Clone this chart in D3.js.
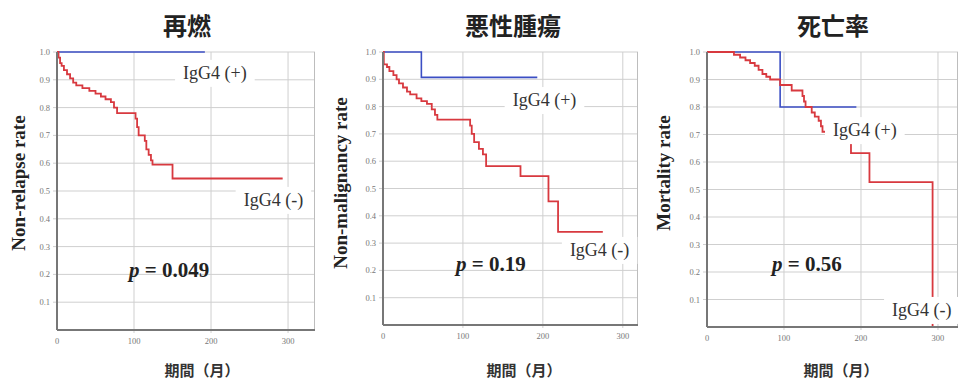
<!DOCTYPE html>
<html>
<head>
<meta charset="utf-8">
<script src="https://cdn.jsdelivr.net/npm/d3@7"></script>
<style>
  html, body { margin: 0; padding: 0; background: #fff; }
  svg { display: block; }
</style>
</head>
<body>
<div id="chart"></div>
<script>
// Kaplan-Meier step data, [month, rate]
const relapsePos = [[0, 1.0], [192, 1.0]];
const relapseNeg = [[0, 1], [2, 0.98], [4, 0.96], [6, 0.95], [9, 0.935], [13, 0.92], [17, 0.905],
  [21, 0.89], [25, 0.88], [33, 0.87], [42, 0.86], [50, 0.85], [57, 0.84], [63, 0.83], [70, 0.82],
  [74, 0.80], [78, 0.78], [102, 0.76], [104, 0.73], [106, 0.70], [114, 0.68], [116, 0.65],
  [119, 0.63], [122, 0.61], [124, 0.595], [150, 0.545], [293, 0.545]];

const malignancyPos = [[0, 1], [48, 0.907], [193, 0.907]];
const malignancyNeg = [[0, 1], [1, 0.955], [5, 0.945], [8, 0.93], [13, 0.915], [17, 0.90], [20, 0.885],
  [25, 0.87], [30, 0.855], [34, 0.845], [42, 0.83], [48, 0.82], [55, 0.81], [61, 0.79], [65, 0.77],
  [68, 0.752], [109, 0.73], [111, 0.70], [114, 0.67], [120, 0.645], [125, 0.625], [129, 0.582],
  [172, 0.545], [207, 0.453], [219, 0.341], [275, 0.341]];

const mortalityPos = [[0, 1], [95, 0.80], [194, 0.80]];
const mortalityNeg = [[0, 1], [35, 0.99], [43, 0.98], [50, 0.97], [56, 0.96], [62, 0.95], [67, 0.935],
  [72, 0.92], [77, 0.91], [82, 0.90], [95, 0.88], [110, 0.86], [124, 0.84], [126, 0.82], [128, 0.80],
  [136, 0.78], [140, 0.765], [145, 0.75], [148, 0.73], [150, 0.71], [165, 0.68], [187, 0.632],
  [211, 0.527], [293, 0.0]];

const titles = ["再燃", "悪性腫瘍", "死亡率"];
const yLabels = ["Non-relapse rate", "Non-malignancy rate", "Mortality rate"];
const pValues = ["0.049", "0.19", "0.56"];
const yTicks = [0.1, 0.2, 0.3, 0.4, 0.5, 0.6, 0.7, 0.8, 0.9, 1.0];
const xTicks = [0, 100, 200, 300];
const xLabel = "期間（月）";
const posLabel = "IgG4 (+)";
const negLabel = "IgG4 (-)";

const width = 958, height = 382;
const RED = "#d8393f", BLUE = "#3b4ec4";

// layout for each panel (pixels), label anchors in data units
const panels = [
  { pos: relapsePos, neg: relapseNeg, left: 57, top: 52, right: 315, bottom: 330, xMax: 335,
    titleX: 187, yLabX: 18, yLabY: 183, xLabX: 202, pX: 129, pY: 277,
    posAt: [205, 0.925], negAt: [281, 0.468] },
  { pos: malignancyPos, neg: malignancyNeg, left: 383, top: 52, right: 638, bottom: 325, xMax: 319,
    titleX: 513, yLabX: 340, yLabY: 183, xLabX: 524, pX: 456, pY: 271,
    posAt: [202, 0.824], negAt: [271, 0.275] },
  { pos: mortalityPos, neg: mortalityNeg, left: 707, top: 52, right: 958, bottom: 327, xMax: 326,
    titleX: 833, yLabX: 663, yLabY: 173, xLabX: 841, pX: 772, pY: 271,
    posAt: [205, 0.716], negAt: [279, 0.062] }
];

const svg = d3.select("#chart").append("svg")
    .attr("width", width)
    .attr("height", height);

panels.forEach((p, i) => {
  const x = d3.scaleLinear().domain([0, p.xMax]).range([p.left, p.right]);
  const y = d3.scaleLinear().domain([0, 1]).range([p.bottom, p.top]);
  const g = svg.append("g");

  // grid
  g.append("g")
    .selectAll("line")
    .data(yTicks)
    .join("line")
      .attr("x1", p.left - 4).attr("x2", p.right)
      .attr("y1", d => y(d)).attr("y2", d => y(d))
      .attr("stroke", "#cfcfcf").attr("stroke-width", 1);
  g.append("g")
    .selectAll("line")
    .data(xTicks.filter(d => d > 0))
    .join("line")
      .attr("x1", d => x(d)).attr("x2", d => x(d))
      .attr("y1", p.top).attr("y2", p.bottom + 3)
      .attr("stroke", "#cfcfcf").attr("stroke-width", 1);
  g.append("line")
    .attr("x1", p.right - 0.5).attr("x2", p.right - 0.5)
    .attr("y1", p.top).attr("y2", p.bottom)
    .attr("stroke", "#bdbdbd");

  // tick labels
  g.append("g")
    .selectAll("text")
    .data(yTicks)
    .join("text")
      .attr("x", p.left - 7)
      .attr("y", d => y(d) + 3)
      .attr("text-anchor", "end")
      .attr("font-family", "Liberation Serif")
      .attr("font-size", 8.5)
      .attr("fill", "#777")
      .text(d => d3.format(".1f")(d));
  g.append("g")
    .selectAll("text")
    .data(xTicks)
    .join("text")
      .attr("x", d => x(d))
      .attr("y", p.bottom + 14)
      .attr("text-anchor", "middle")
      .attr("font-family", "Liberation Serif")
      .attr("font-size", 8.5)
      .attr("fill", "#777")
      .text(d => d);

  // curves
  const line = d3.line()
      .x(d => x(d[0]))
      .y(d => y(d[1]))
      .curve(d3.curveStepAfter);
  g.append("path")
    .datum(p.pos)
    .attr("d", line)
    .attr("fill", "none")
    .attr("stroke", BLUE)
    .attr("stroke-width", 1.6);
  g.append("path")
    .datum(p.neg)
    .attr("d", line)
    .attr("fill", "none")
    .attr("stroke", RED)
    .attr("stroke-width", 1.8);

  // group labels with white boxes
  [[posLabel, p.posAt], [negLabel, p.negAt]].forEach(([txt, at]) => {
    const lg = g.append("g");
    const rect = lg.append("rect").attr("fill", "#fff");
    const t = lg.append("text")
      .attr("x", x(at[0]))
      .attr("y", y(at[1]) + 6)
      .attr("text-anchor", "middle")
      .attr("font-family", "Liberation Serif")
      .attr("font-size", 18)
      .attr("fill", "#333")
      .text(txt);
    const bb = t.node().getBBox();
    rect.attr("x", bb.x - 8).attr("y", bb.y - 3)
      .attr("width", bb.width + 16).attr("height", bb.height + 6);
  });

  // axes lines (left, bottom)
  g.append("line")
    .attr("x1", p.left).attr("x2", p.left)
    .attr("y1", p.top).attr("y2", p.bottom)
    .attr("stroke", "#777").attr("stroke-width", 2);
  g.append("line")
    .attr("x1", p.left).attr("x2", p.right)
    .attr("y1", p.bottom).attr("y2", p.bottom)
    .attr("stroke", "#777").attr("stroke-width", 2);

  // p value
  const pt = g.append("text")
    .attr("x", p.pX)
    .attr("y", p.pY)
    .attr("font-family", "Liberation Serif")
    .attr("font-weight", "bold")
    .attr("font-size", 21)
    .attr("fill", "#222");
  pt.append("tspan").attr("font-style", "italic").text("p");
  pt.append("tspan").text(" = " + pValues[i]);

  // titles
  g.append("text")
    .attr("x", p.titleX)
    .attr("y", 35)
    .attr("text-anchor", "middle")
    .attr("font-family", "Noto Sans CJK JP")
    .attr("font-weight", "bold")
    .attr("font-size", 24)
    .attr("fill", "#222")
    .text(titles[i]);

  g.append("text")
    .attr("x", p.xLabX)
    .attr("y", 376)
    .attr("text-anchor", "middle")
    .attr("font-family", "Noto Sans CJK JP")
    .attr("font-weight", "bold")
    .attr("font-size", 15)
    .attr("fill", "#333")
    .text(xLabel);

  g.append("text")
    .attr("transform", `translate(${p.yLabX},${p.yLabY}) rotate(-90)`)
    .attr("dy", "0.35em")
    .attr("text-anchor", "middle")
    .attr("font-family", "Liberation Serif")
    .attr("font-weight", "bold")
    .attr("font-size", 19)
    .attr("fill", "#222")
    .text(yLabels[i]);
});
</script>
</body>
</html>
